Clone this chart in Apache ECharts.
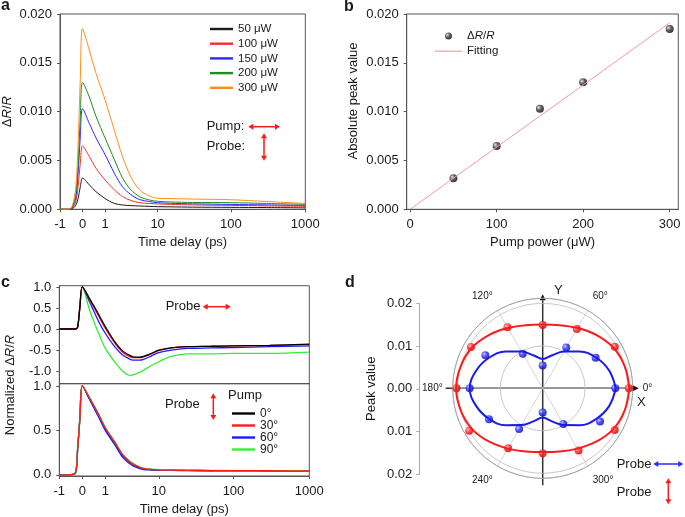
<!DOCTYPE html>
<html><head><meta charset="utf-8">
<script src="https://cdn.jsdelivr.net/npm/echarts@6/dist/echarts.min.js"></script>
<style>html,body{margin:0;padding:0;background:#fff}#c{width:685px;height:517px}</style>
</head><body><div id="c"></div>
<script>
// ---------------- DATA ----------------
// panel a: time delay (ps) and ΔR/R for pump powers
const timeA = [-1, -0.6, -0.45, -0.3, -0.2, -0.1, 0, 0.3, 0.6, 1, 1.5, 2.15, 3.1, 4.5, 6.9, 10, 15, 30, 100, 300, 1000];
const a50  = [0,0,0.00006,0.0004,0.0011,0.0023,0.0032,0.0025,0.0018,0.0011,0.0006,0.00044,0.00038,0.00034,0.0003,0.00027,0.00025,0.00022,0.0002,0.00018,0.00015];
const a100 = [0,0,0.00013,0.0008,0.0023,0.0047,0.0065,0.0054,0.0042,0.003,0.002,0.0013,0.0009,0.00068,0.0006,0.00055,0.0005,0.00045,0.0004,0.00035,0.0003];
const a150 = [0,0,0.0002,0.0012,0.0036,0.0074,0.0103,0.0088,0.0073,0.0056,0.0037,0.0023,0.0015,0.001,0.0008,0.00068,0.00062,0.00056,0.0005,0.00045,0.0004];
const a200 = [0,0,0.00026,0.0016,0.0045,0.0094,0.0130,0.0115,0.0095,0.0073,0.0051,0.0032,0.002,0.0013,0.00096,0.00082,0.00075,0.0007,0.00068,0.0006,0.00051];
const a300 = [0,0,0.0004,0.0022,0.0065,0.0133,0.0185,0.0163,0.0139,0.0112,0.0081,0.0054,0.0033,0.002,0.00137,0.00113,0.0011,0.00105,0.00098,0.0008,0.0006];
const namesA = ['50 μW','100 μW','150 μW','200 μW','300 μW'];

// panel b: peak vs pump power
const powerB = [50, 100, 150, 200, 300];
const peakB  = [0.00317, 0.00648, 0.0103, 0.0130, 0.01846];
const fitX   = [0, 300];
const fitY   = [0, 0.0191];

// panel c: normalized traces for pump angles
const timeC = [-1, -0.6, -0.3, -0.2, -0.1, 0, 0.33, 0.71, 1, 1.5, 2.1, 2.8, 3.3, 4.4, 5.2, 7, 9.6, 14.6, 24, 50, 100, 300, 1000];
const cTop0  = [0,0,0,0.05,0.55,1.0,0.71,0.35,0.06,-0.30,-0.52,-0.62,-0.66,-0.67,-0.65,-0.59,-0.51,-0.45,-0.42,-0.41,-0.40,-0.39,-0.36];
const cTop30 = [0,0,0,0.05,0.55,1.0,0.69,0.31,0.02,-0.33,-0.55,-0.65,-0.68,-0.68,-0.66,-0.60,-0.52,-0.45,-0.42,-0.41,-0.40,-0.39,-0.37];
const cTop60 = [0,0,0,0.05,0.55,1.0,0.63,0.18,-0.10,-0.42,-0.62,-0.71,-0.74,-0.74,-0.72,-0.65,-0.57,-0.50,-0.46,-0.45,-0.44,-0.42,-0.40];
const cTop90 = [0,0,0,0.05,0.55,1.0,0.43,-0.10,-0.46,-0.78,-1.00,-1.10,-1.09,-1.03,-0.98,-0.88,-0.79,-0.65,-0.59,-0.59,-0.58,-0.58,-0.55];
const cBot0  = [0,0,0.02,0.3,0.65,1.0,0.85,0.67,0.52,0.36,0.22,0.15,0.12,0.08,0.07,0.06,0.055,0.052,0.05,0.048,0.047,0.046,0.045];
const cBot30 = [0,0,0.02,0.3,0.65,1.0,0.86,0.68,0.53,0.37,0.23,0.15,0.12,0.085,0.07,0.06,0.055,0.052,0.05,0.048,0.047,0.046,0.045];
const cBot60 = [0,0,0.02,0.3,0.65,1.0,0.84,0.65,0.50,0.34,0.20,0.13,0.10,0.07,0.06,0.055,0.05,0.05,0.048,0.046,0.045,0.044,0.043];
const cBot90 = [0,0,0.02,0.3,0.65,1.0,0.86,0.68,0.53,0.37,0.23,0.16,0.13,0.09,0.075,0.065,0.06,0.055,0.052,0.05,0.048,0.047,0.046];
const namesC = ['0°','30°','60°','90°'];

// panel d: polar peak values
const angD  = [0,30,60,90,120,150,180,210,240,270,300,330];
const redD  = [0.0203,0.0196,0.0161,0.0149,0.0166,0.0195,0.0203,0.0200,0.0163,0.0153,0.0169,0.0196];
const blueD = [0.0171,0.0144,0.0111,0.0054,0.0094,0.0156,0.0172,0.0146,0.0111,0.0057,0.0097,0.0156];
const angFit  = [0,15,30,45,60,75,90,105,120,135,150,165,180,195,210,225,240,255,270,285,300,315,330,345,360];
const redFit  = [0.0204,0.0200,0.0192,0.0178,0.0164,0.0154,0.0150,0.0154,0.0164,0.0178,0.0192,0.0200,0.0204,0.0200,0.0192,0.0178,0.0164,0.0154,0.0150,0.0154,0.0164,0.0178,0.0192,0.0200,0.0204];
const blueFit = [0.0172,0.0162,0.0145,0.0123,0.0100,0.0080,0.0069,0.0080,0.0100,0.0123,0.0145,0.0162,0.0172,0.0162,0.0145,0.0123,0.0100,0.0080,0.0069,0.0080,0.0100,0.0123,0.0145,0.0162,0.0172];

// tick labels
const timeTicks = [-1, 0, 1, 10, 100, 1000];
const timeTickLabels = ['-1','0','1','10','100','1000'];
const powerTicks = [0, 100, 200, 300];
const normTopTicks = [-1, -0.5, 0, 0.5, 1];
const normBotTicks = [0, 0.5, 1];
const peakTicks = [-0.02, -0.01, 0, 0.01, 0.02];

// ---------------- HELPERS ----------------
const FONT = '"Liberation Sans", Arial, Helvetica, sans-serif';
const AX = '#555', TXT = '#1a1a1a';
// linear from -1 to 1 ps, logarithmic beyond
function tu(t){ if(t<=1) return t; const L=Math.log10(t); if(L<=1) return 1+2.33*L; if(L<=2) return 3.33+3.25*(L-1); return 6.58+3.3*(L-2); }
const timeTickU = timeTicks.map(tu);
function timeFmt(v){ const i=timeTickU.findIndex(u=>Math.abs(u-v)<1e-6); return i>=0?timeTickLabels[i]:''; }
const pairs = (xs, ys, f) => xs.map((x,i)=>[f?f(x):x, ys[i]]);

function timeXAxis(gridIndex, showLabels){
  return {type:'value', gridIndex, min:-1, max:tu(1000),
    axisLine:{show:true, onZero:false, lineStyle:{color:AX}},
    axisTick:{show:showLabels, customValues:timeTickU, length:3, lineStyle:{color:AX}},
    axisLabel:{show:showLabels, customValues:timeTickU, formatter:timeFmt, fontSize:13, color:TXT, margin:9, fontFamily:FONT},
    splitLine:{show:false},
    name: showLabels?'Time delay (ps)':'', nameLocation:'middle', nameGap:27,
    nameTextStyle:{fontSize:13, color:TXT, fontFamily:FONT}};
}
function sphere(c0,c1,c2){ return {type:'radial', x:0.35, y:0.35, r:0.7, colorStops:[{offset:0,color:c0},{offset:0.45,color:c1},{offset:1,color:c2}]}; }
function line(n, x, y, color, xi, yi, w){ return {name:n, type:'line', xAxisIndex:xi, yAxisIndex:yi, data:pairs(x,y,tu), symbol:'none', smooth:0.3, lineStyle:{color, width:w||1}, itemStyle:{color}, silent:true}; }

function arrowH(x1,x2,y,color,both){ const h=5,w=3; const ch=[{type:'line', shape:{x1:both?x1+h-1:x1, y1:y, x2:x2-h+1, y2:y}, style:{stroke:color, lineWidth:1.5}},
  {type:'polygon', shape:{points:[[x2,y],[x2-h,y-w],[x2-h,y+w]]}, style:{fill:color}}];
  if(both) ch.push({type:'polygon', shape:{points:[[x1,y],[x1+h,y-w],[x1+h,y+w]]}, style:{fill:color}});
  return {type:'group', silent:true, children:ch}; }
function arrowV(x,y1,y2,color,both){ const h=5,w=3; const ch=[{type:'line', shape:{x1:x, y1:y1+h-1, x2:x, y2:both?y2-h+1:y2}, style:{stroke:color, lineWidth:1.5}},
  {type:'polygon', shape:{points:[[x,y1],[x-w,y1+h],[x+w,y1+h]]}, style:{fill:color}}];
  if(both) ch.push({type:'polygon', shape:{points:[[x,y2],[x-w,y2-h],[x+w,y2-h]]}, style:{fill:color}});
  return {type:'group', silent:true, children:ch}; }
function txt(x,y,s,size,opt){ return {type:'text', x, y, silent:true, style:Object.assign({text:s, fontSize:size, fontFamily:FONT, fill:TXT, textAlign:'left', textVerticalAlign:'middle'}, opt||{})}; }

// ---------------- LAYOUT ----------------
const PC = [542.7, 388.3], PR = 90;
const colA = ['#1a1a1a','#ff2b2b','#2a2aff','#1e8c1e','#ff8c1a'];
const colC = ['#000000','#ff1a1a','#1a1aff','#33ee33'];
const rich = {i:{fontStyle:'italic', fontSize:13, fontFamily:FONT, color:TXT}, n:{fontSize:13, fontFamily:FONT, color:TXT}};
function yAx(gi, extra){ return Object.assign({type:'value', gridIndex:gi, axisLine:{show:true, onZero:false, lineStyle:{color:AX}},
  axisTick:{show:true, length:3, lineStyle:{color:AX}}, splitLine:{show:false}}, extra); }

const option = {
  animation:false,
  textStyle:{fontFamily:FONT},
  grid:[
    {left:60, top:14, width:245.3, height:195.3, show:true, borderColor:AX, borderWidth:1},
    {left:406.7, top:14, width:271.6, height:195.3, show:true, borderColor:AX, borderWidth:1},
    {left:59.3, top:285.7, width:250, height:98, show:true, borderColor:AX, borderWidth:1},
    {left:59.3, top:383.7, width:250, height:95.8, show:true, borderColor:AX, borderWidth:1},
    {left:419.3, top:303.3, width:1, height:171}
  ],
  xAxis:[
    timeXAxis(0,true),
    {type:'value', gridIndex:1, min:-4, max:310, axisLine:{onZero:false, lineStyle:{color:AX}},
     axisTick:{customValues:powerTicks, length:3, lineStyle:{color:AX}},
     axisLabel:{customValues:powerTicks, fontSize:13, color:TXT, margin:9},
     splitLine:{show:false}, name:'Pump power (μW)', nameLocation:'middle', nameGap:27, nameTextStyle:{fontSize:13, color:TXT}},
    timeXAxis(2,false),
    timeXAxis(3,true),
    {type:'value', gridIndex:4, min:0, max:1, show:false}
  ],
  yAxis:[
    yAx(0, {min:0, max:0.02, interval:0.005, axisLabel:{formatter:v=>v.toFixed(3), fontSize:13, color:TXT, margin:8},
     name:'Δ{i|R}/{i|R}', nameLocation:'middle', nameGap:46, nameTextStyle:{fontSize:13, color:TXT, rich}}),
    yAx(1, {min:0, max:0.02, interval:0.005, axisLabel:{formatter:v=>v.toFixed(3), fontSize:13, color:TXT, margin:8}}),
    yAx(2, {min:-1.3, max:1.03, axisTick:{show:true, customValues:normTopTicks, length:3, lineStyle:{color:AX}},
     axisLabel:{customValues:normTopTicks, formatter:v=>v.toFixed(1), fontSize:13, color:TXT, margin:8}}),
    yAx(3, {min:-0.013, max:1.025, axisTick:{show:true, customValues:normBotTicks, length:3, lineStyle:{color:AX}},
     axisLabel:{customValues:normBotTicks, formatter:v=>v.toFixed(1), fontSize:13, color:TXT, margin:8}}),
    {type:'value', gridIndex:4, min:-0.02, max:0.02, interval:0.01, axisLine:{show:true, onZero:false, lineStyle:{color:'#aaa'}},
     axisTick:{show:true, length:3, lineStyle:{color:'#aaa'}}, splitLine:{show:false},
     axisLabel:{formatter:v=>Math.abs(v).toFixed(2), fontSize:13, color:TXT, margin:7},
     name:'Peak value', nameLocation:'middle', nameGap:41, nameTextStyle:{fontSize:13, color:TXT}}
  ],
  polar:{center:PC, radius:PR},
  radiusAxis:{min:0, max:0.0212, interval:0.01, axisLine:{show:false}, axisTick:{show:false}, axisLabel:{show:false},
    splitLine:{show:true, lineStyle:{color:'#bbb', width:0.8}}},
  angleAxis:{type:'value', min:0, max:360, interval:60, startAngle:0, clockwise:false,
    axisLine:{show:true, lineStyle:{color:'#999', width:0.8}}, axisTick:{show:false},
    splitLine:{show:true, lineStyle:{color:'#ccc', width:0.8}},
    axisLabel:{formatter:v=>(v===360?'':v+'°'), fontSize:10, color:TXT, margin:10}},
  legend:[
    {data:namesA, left:205, top:18, orient:'vertical', itemWidth:23, itemHeight:12, itemGap:2.7,
     icon:'path://M0,0 H23 V2.4 H0 Z', itemStyle:{borderWidth:0}, textStyle:{fontSize:11.5, color:TXT, lineHeight:12}, selectedMode:false},
    {data:[{name:'ΔR/R', icon:'circle'},{name:'Fitting', icon:'path://M0,0 H27 V1.2 H0 Z'}], left:430, top:25, orient:'vertical',
     itemWidth:27, itemHeight:7, itemGap:3.2, itemStyle:{borderWidth:0},
     formatter:n=>n==='ΔR/R'?'Δ{i|R}/{i|R}':n,
     textStyle:{fontSize:11.5, color:TXT, lineHeight:12, rich:{i:{fontStyle:'italic', fontSize:11.5, color:TXT}}}, selectedMode:false},
    {data:namesC, left:227, top:402.5, orient:'vertical', itemWidth:23, itemHeight:12, itemGap:0,
     icon:'path://M0,0 H23 V2.4 H0 Z', itemStyle:{borderWidth:0}, textStyle:{fontSize:12, color:TXT, lineHeight:12}, selectedMode:false}
  ],
  series:[
    line(namesA[0], timeA, a50,  colA[0], 0, 0),
    line(namesA[1], timeA, a100, colA[1], 0, 0),
    line(namesA[2], timeA, a150, colA[2], 0, 0),
    line(namesA[3], timeA, a200, colA[3], 0, 0),
    line(namesA[4], timeA, a300, colA[4], 0, 0),
    {name:'Fitting', type:'line', xAxisIndex:1, yAxisIndex:1, data:pairs(fitX, fitY), symbol:'none', lineStyle:{color:'#f49a9a', width:1}, itemStyle:{color:'#f49a9a'}},
    {name:'ΔR/R', type:'scatter', xAxisIndex:1, yAxisIndex:1, data:pairs(powerB, peakB), symbolSize:8, itemStyle:{color:sphere('#e0e0e0','#3a3a3a','#000')}},
    line(namesC[3], timeC, cTop90, colC[3], 2, 2, 1.3),
    line(namesC[2], timeC, cTop60, colC[2], 2, 2, 1.3),
    line(namesC[1], timeC, cTop30, colC[1], 2, 2, 1.3),
    line(namesC[0], timeC, cTop0,  colC[0], 2, 2, 1.3),
    line(namesC[0], timeC, cBot0,  colC[0], 3, 3, 1.3),
    line(namesC[2], timeC, cBot60, colC[2], 3, 3, 1.3),
    line(namesC[3], timeC, cBot90, colC[3], 3, 3, 1.3),
    line(namesC[1], timeC, cBot30, colC[1], 3, 3, 1.3),
    {name:'red fit', type:'line', coordinateSystem:'polar', data:angFit.map((a,i)=>[redFit[i], a]), symbol:'none', smooth:0.4, lineStyle:{color:'#ff1a1a', width:2}},
    {name:'blue fit', type:'line', coordinateSystem:'polar', data:angFit.map((a,i)=>[blueFit[i], a]), symbol:'none', smooth:0.4, lineStyle:{color:'#1a1aee', width:2}},
    {name:'red pts', type:'scatter', coordinateSystem:'polar', data:angD.map((a,i)=>[redD[i], a]), symbolSize:8, itemStyle:{color:sphere('#ffc0c0','#ff2020','#c00000')}},
    {name:'blue pts', type:'scatter', coordinateSystem:'polar', data:angD.map((a,i)=>[blueD[i], a]), symbolSize:8, itemStyle:{color:sphere('#c0c0ff','#2a2aff','#0000a0')}}
  ],
  graphic:[
    txt(1, 6, 'a', 16, {fontWeight:'bold'}),
    txt(344, 7, 'b', 16, {fontWeight:'bold'}),
    txt(1, 283, 'c', 16, {fontWeight:'bold'}),
    txt(345, 283, 'd', 16, {fontWeight:'bold'}),
    txt(206.7, 126.7, 'Pump:', 13), txt(206.7, 146.7, 'Probe:', 13),
    arrowH(248.3, 280, 126.7, '#ff1a1a', true), arrowV(264, 133.3, 160.7, '#ff1a1a', true),
    txt(165.7, 306.7, 'Probe', 13), arrowH(202.7, 230.7, 306.7, '#ff1a1a', true),
    txt(165, 404.3, 'Probe', 13), arrowV(213.3, 393.3, 420, '#ff1a1a', true),
    txt(228, 395, 'Pump', 13),
    {type:'text', x:10, y:385, rotation:Math.PI/2, silent:true,
     style:{text:'Normalized Δ{i|R}/{i|R}', fontSize:13, fontFamily:FONT, fill:TXT, textAlign:'center', textVerticalAlign:'middle', rich}},
    {type:'text', x:353, y:101, rotation:Math.PI/2, silent:true,
     style:{text:'Absolute peak value', fontSize:13, fontFamily:FONT, fill:TXT, textAlign:'center', textVerticalAlign:'middle'}},
    // polar cross axes
    {type:'group', silent:true, z:1, children:[
      {type:'line', shape:{x1:PC[0]-PR-7, y1:PC[1], x2:PC[0]+PR+1, y2:PC[1]}, style:{stroke:'#333', lineWidth:1.5}},
      {type:'polygon', shape:{points:[[PC[0]+PR+6,PC[1]],[PC[0]+PR,PC[1]-3],[PC[0]+PR,PC[1]+3]]}, style:{fill:'#111'}},
      {type:'line', shape:{x1:PC[0], y1:PC[1]+PR+7, x2:PC[0], y2:PC[1]-PR+2}, style:{stroke:'#333', lineWidth:1.5}},
      {type:'polygon', shape:{points:[[PC[0],PC[1]-PR-4],[PC[0]-3,PC[1]-PR+2],[PC[0]+3,PC[1]-PR+2]]}, style:{fill:'#111'}}
    ]},
    txt(554, 290, 'Y', 13), txt(637, 402, 'X', 13),
    txt(616.7, 464, 'Probe', 13), arrowH(653.3, 683.3, 464, '#2a2aff', true),
    txt(616.7, 492.7, 'Probe', 13), arrowV(668.3, 478.3, 504.3, '#ff1a1a', true)
  ]
};
const chart = echarts.init(document.getElementById('c'), null, {renderer:'canvas'});
chart.setOption(option);
</script></body></html>
